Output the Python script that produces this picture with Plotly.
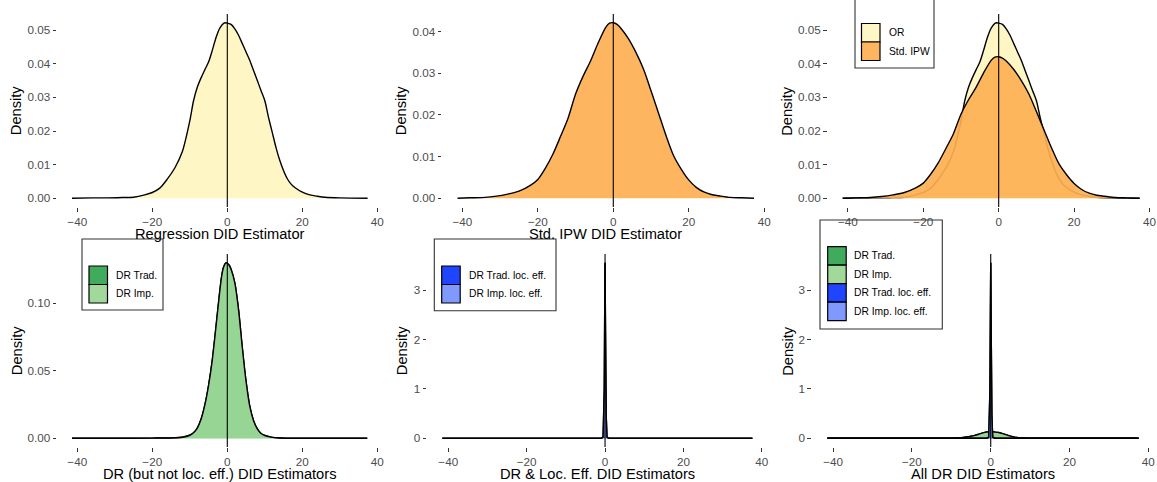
import plotly.graph_objects as go

# ---- density estimates of the DID estimators (estimate value -> density) ----
EST_OR = [-41.4, -36, -32, -28, -25, -22, -20, -18, -16, -14, -12, -10, -9, -8, -7, -6, -5, -4, -3, -2, -1, -0.5,
          0, 1, 2, 3, 4, 5, 6, 7, 8, 9, 10, 11, 12, 13, 14, 15, 16, 17, 18, 20, 22, 24, 26, 30, 37.4]
DENS_OR = [0.0000, 0.0001, 0.0001, 0.0002, 0.0003, 0.0010, 0.0017, 0.0030, 0.0057, 0.0090, 0.0138, 0.0230, 0.0290,
           0.0330, 0.0358, 0.0382, 0.0405, 0.0440, 0.0478, 0.0506, 0.0520, 0.0522,
           0.0521, 0.0517, 0.0504, 0.0485, 0.0460, 0.0435, 0.0410, 0.0380, 0.0350, 0.0320, 0.0290, 0.0240, 0.0195,
           0.0150, 0.0112, 0.0082, 0.0058, 0.0042, 0.0032, 0.0018, 0.0010, 0.0006, 0.0003, 0.0001, 0.0000]

EST_IPW = [-41.3, -38, -34, -31, -28, -25, -22, -20, -18, -16, -14, -12, -10, -8, -6, -4, -2, -1,
           0, 1, 2, 4, 6, 8, 10, 12, 14, 16, 18, 20, 22, 24, 26, 28, 31, 34, 37.3]
DENS_IPW = [0.0000, 0.0001, 0.0002, 0.0005, 0.0010, 0.0017, 0.0031, 0.0045, 0.0072, 0.0106, 0.0148, 0.0192,
            0.0250, 0.0293, 0.0330, 0.0373, 0.0410, 0.0420,
            0.0421, 0.0417, 0.0408, 0.0383, 0.0350, 0.0310, 0.0258, 0.0204, 0.0150, 0.0102, 0.0070, 0.0044,
            0.0026, 0.0015, 0.0009, 0.0006, 0.0002, 0.0001, 0.0000]

EST_DR = [-41.4, -30, -20, -14, -12, -10, -9, -8, -7, -6, -5, -4, -3, -2, -1.5, -1, -0.3,
          0.5, 1, 2, 3, 4, 5, 6, 7, 8, 9, 10, 12, 14, 20, 37.3]
DENS_DR_TRAD = [0.0, 0.0, 0.0001, 0.0003, 0.0007, 0.0022, 0.0040, 0.0075, 0.0140, 0.0245, 0.0390, 0.0580,
                0.0830, 0.1090, 0.1200, 0.1265, 0.1298,
                0.1280, 0.1250, 0.1150, 0.0950, 0.0670, 0.0420, 0.0235, 0.0130, 0.0070, 0.0035, 0.0020,
                0.0006, 0.0002, 0.0, 0.0]
DENS_DR_IMP = DENS_DR_TRAD[:]

EST_LOC = [-41.5, -1.0, -0.5, -0.3, -0.2, -0.1, 0.0, 0.1, 0.2, 0.3, 0.5, 1.0, 37.6]
DENS_DR_TRAD_LOC = [0.0, 0.0, 0.02, 0.45, 1.0, 2.4, 3.56, 2.4, 1.0, 0.45, 0.02, 0.0, 0.0]
DENS_DR_IMP_LOC = DENS_DR_TRAD_LOC[:]

X_TICKS = [-40, -20, 0, 20, 40]

# ---- colours ----
C_OR = "#FEF6C4"
C_IPW_FILL = "rgba(253,176,81,0.92)"
C_IPW_KEY = "#FDB65F"
C_TRAD = "#41AB5D"
C_IMP_FILL = "rgba(161,217,155,0.9)"
C_IMP_KEY = "#A1D99B"
C_TRAD_LOC = "#1F45FF"
C_IMP_LOC_FILL = "rgba(128,153,255,0.9)"
C_IMP_LOC_KEY = "#8099FF"

W, H = 1157, 482
FONT = "Liberation Sans, Arial, sans-serif"


def px(x):
    return x / W


def py(y):
    return 1 - y / H


# panel boxes in pixels: (left, right, top, bottom)
PANELS = [
    (57.2, 382.4, 14, 207),
    (442.3, 769.2, 14, 207),
    (827.7, 1154.6, 14, 207),
    (57.2, 382.4, 254, 447),
    (427.3, 767.1, 254, 447),
    (812.1, 1153.6, 254, 447),
]

fig = go.Figure()


def add_density(panel, xs, ys, fill, shape="spline"):
    sfx = "" if panel == 1 else str(panel)
    fig.add_trace(go.Scatter(
        x=xs, y=ys, mode="lines", fill="tozeroy", fillcolor=fill,
        line=dict(color="black", width=1.4, shape=shape, smoothing=0.8 if shape == "spline" else None),
        xaxis="x" + sfx, yaxis="y" + sfx, showlegend=False, hoverinfo="skip"))


add_density(1, EST_OR, DENS_OR, C_OR)
add_density(2, EST_IPW, DENS_IPW, C_IPW_FILL)
add_density(3, EST_OR, DENS_OR, C_OR)
add_density(3, EST_IPW, DENS_IPW, C_IPW_FILL)
add_density(4, EST_DR, DENS_DR_TRAD, C_TRAD)
add_density(4, EST_DR, DENS_DR_IMP, C_IMP_FILL)
add_density(5, EST_LOC, DENS_DR_TRAD_LOC, C_TRAD_LOC, "linear")
add_density(5, EST_LOC, DENS_DR_IMP_LOC, C_IMP_LOC_FILL, "linear")
add_density(6, EST_DR, DENS_DR_TRAD, C_TRAD)
add_density(6, EST_DR, DENS_DR_IMP, C_IMP_FILL)
add_density(6, EST_LOC, DENS_DR_TRAD_LOC, C_TRAD_LOC, "linear")
add_density(6, EST_LOC, DENS_DR_IMP_LOC, C_IMP_LOC_FILL, "linear")

# y-axis ranges follow the tallest curve in each panel, x range the estimate span (5% padding)
panel_data = {
    1: ([DENS_OR], 0.01, ".2f"),
    2: ([DENS_IPW], 0.01, ".2f"),
    3: ([DENS_OR, DENS_IPW], 0.01, ".2f"),
    4: ([DENS_DR_TRAD, DENS_DR_IMP], 0.05, ".2f"),
    5: ([DENS_DR_TRAD_LOC, DENS_DR_IMP_LOC], 1, "d"),
    6: ([DENS_DR_TRAD, DENS_DR_TRAD_LOC], 1, "d"),
}

axis_common = dict(showline=False, showgrid=False, zeroline=False, ticks="outside", ticklen=3.7,
                   tickwidth=1.07, tickcolor="#333333",
                   tickfont=dict(family=FONT, size=11.7, color="#4D4D4D"))

layout = {}
xmin, xmax = -41.4, 37.4
xpad = 0.05 * (xmax - xmin)
for i, (l, r, t, b) in enumerate(PANELS, start=1):
    sfx = "" if i == 1 else str(i)
    ys_list, dtick, fmt = panel_data[i]
    ymax = max(max(ys) for ys in ys_list)
    layout["xaxis" + sfx] = dict(axis_common, domain=[px(l), px(r)], anchor="y" + sfx,
                                 range=[xmin - xpad, xmax + xpad], tickvals=X_TICKS)
    layout["yaxis" + sfx] = dict(axis_common, domain=[py(b), py(t)], anchor="x" + sfx,
                                 range=[-0.05 * ymax, 1.05 * ymax], dtick=dtick, tick0=0, tickformat=fmt)

shapes = []
annotations = []
for i in range(1, 7):
    sfx = "" if i == 1 else str(i)
    shapes.append(dict(type="line", xref="x" + sfx, yref="y" + sfx + " domain", x0=0, x1=0, y0=0, y1=1,
                       line=dict(color="black", width=1.1), layer="above"))

# axis titles
X_TITLES = ["Regression DID Estimator", "Std. IPW DID Estimator", None,
            "DR (but not loc. eff.) DID Estimators", "DR & Loc. Eff. DID Estimators", "All DR DID Estimators"]
Y_TITLE_X = [16.7, 401.7, 787.3, 16.7, 401.7, 787.3]
for i, (l, r, t, b) in enumerate(PANELS):
    row_y = 233.5 if i < 3 else 474
    if X_TITLES[i]:
        annotations.append(dict(text=X_TITLES[i], x=px((l + r) / 2), y=py(row_y), xref="paper", yref="paper",
                                xanchor="center", yanchor="middle", showarrow=False,
                                font=dict(family=FONT, size=14.67, color="black")))
    annotations.append(dict(text="Density", x=px(Y_TITLE_X[i]), y=py((t + b) / 2), xref="paper", yref="paper",
                            xanchor="center", yanchor="middle", showarrow=False, textangle=-90,
                            font=dict(family=FONT, size=14.67, color="black")))


def legend_box(box, key_x, key_top, text_x, items, key=18.5):
    x0, x1, y0, y1 = box
    shapes.append(dict(type="rect", xref="paper", yref="paper", x0=px(x0), x1=px(x1), y0=py(y1), y1=py(y0),
                       line=dict(color="#333333", width=1.1), fillcolor="rgba(0,0,0,0)", layer="above"))
    for k, (label, colour) in enumerate(items):
        top = key_top + k * key
        shapes.append(dict(type="rect", xref="paper", yref="paper", x0=px(key_x), x1=px(key_x + key),
                           y0=py(top + key), y1=py(top), line=dict(color="black", width=1.2),
                           fillcolor=colour, layer="above"))
        annotations.append(dict(text=label, x=px(text_x), y=py(top + key / 2), xref="paper", yref="paper",
                                xanchor="left", yanchor="middle", showarrow=False,
                                font=dict(family=FONT, size=10.3, color="black")))


legend_box((855, 934, -5, 68), 861.5, 23.5, 886.7, [("OR", C_OR), ("Std. IPW", C_IPW_KEY)])
legend_box((82, 163, 239, 310), 89, 266, 114.3, [("DR Trad.", C_TRAD), ("DR Imp.", C_IMP_KEY)])
legend_box((434.3, 556, 239, 310.7), 441.7, 266, 466.7,
           [("DR Trad. loc. eff.", C_TRAD_LOC), ("DR Imp. loc. eff.", C_IMP_LOC_KEY)])
legend_box((820, 942.3, 220, 329), 827.7, 246.7, 851.7,
           [("DR Trad.", C_TRAD), ("DR Imp.", C_IMP_KEY),
            ("DR Trad. loc. eff.", C_TRAD_LOC), ("DR Imp. loc. eff.", C_IMP_LOC_KEY)])

fig.update_layout(width=W, height=H, margin=dict(l=0, r=0, t=0, b=0, autoexpand=False),
                  paper_bgcolor="white", plot_bgcolor="white", showlegend=False,
                  shapes=shapes, annotations=annotations, **layout)

fig.write_html("out.html")
